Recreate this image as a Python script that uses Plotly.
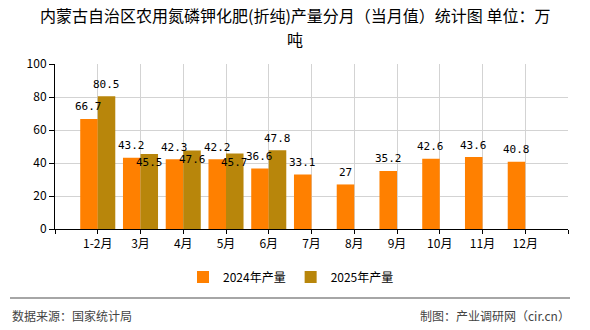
import plotly.graph_objects as go

months = ["1-2月", "3月", "4月", "5月", "6月", "7月", "8月", "9月", "10月", "11月", "12月"]
prod_2024 = [66.7, 43.2, 42.3, 42.2, 36.6, 33.1, 27, 35.2, 42.6, 43.6, 40.8]
prod_2025 = [80.5, 45.5, 47.6, 45.7, 47.8, None, None, None, None, None, None]
label_below_2025 = [False, True, True, True, False, False, False, False, False, False, False]
series_names = ["2024年产量", "2025年产量"]
colors = ["#FF8000", "#B8860B"]

title_line1 = "内蒙古自治区农用氮磷钾化肥(折纯)产量分月（当月值）统计图 单位：万"
title_line2 = "吨"
source_text = "数据来源：国家统计局"
credit_text = "制图：产业调研网（cir.cn）"

CJK = "Noto Sans CJK SC"
bargap = 0.18
xs = list(range(len(months)))

# plot area in pixels (for converting page positions to paper coords)
PL, PR, PT, PB = 55, 568, 64, 229
def px(x):
    return (x - PL) / (PR - PL)
def py(y):
    return (PB - y) / (PB - PT)

fig = go.Figure()
for name, vals, col in zip(series_names, [prod_2024, prod_2025], colors):
    fig.add_trace(go.Bar(x=xs, y=vals, name=name, marker=dict(color=col, line=dict(width=0))))

half = (1 - bargap) / 4
annotations = []
for k, (vals, below) in enumerate([(prod_2024, [False] * len(months)), (prod_2025, label_below_2025)]):
    off = -half if k == 0 else half
    for i, v in enumerate(vals):
        if v is None:
            continue
        annotations.append(dict(
            x=i + off, y=v, xref="x", yref="y", text=f"{v:g}", showarrow=False,
            yanchor="middle", yshift=-9 if below[i] else 12,
            font=dict(family="DejaVu Sans Mono", size=11, color="#000"),
        ))

annotations.append(dict(x=px(295), y=py(15), xref="paper", yref="paper", text=title_line1,
                        showarrow=False, xanchor="center", yanchor="middle",
                        font=dict(family=CJK, size=16, color="#000")))
annotations.append(dict(x=px(295), y=py(39), xref="paper", yref="paper", text=title_line2,
                        showarrow=False, xanchor="center", yanchor="middle",
                        font=dict(family=CJK, size=16, color="#000")))
annotations.append(dict(x=px(10), y=py(315), xref="paper", yref="paper", text=source_text,
                        showarrow=False, xanchor="left", yanchor="middle",
                        font=dict(family=CJK, size=12, color="#444")))
annotations.append(dict(x=px(572), y=py(315), xref="paper", yref="paper", text=credit_text,
                        showarrow=False, xanchor="right", yanchor="middle",
                        font=dict(family=CJK, size=12, color="#444")))

fig.update_layout(
    width=590, height=330,
    margin=dict(l=PL, r=590 - PR, t=PT, b=330 - PB),
    paper_bgcolor="white", plot_bgcolor="white",
    barmode="group", bargap=bargap, bargroupgap=0,
    font=dict(family=CJK, size=12, color="#000"),
    showlegend=True,
    legend=dict(orientation="h", x=px(291), xanchor="center", y=py(277), yanchor="middle",
                font=dict(family=CJK, size=12, color="#000"), itemclick=False),
    annotations=annotations,
    shapes=[dict(type="line", xref="paper", yref="paper", x0=px(10), x1=px(570),
                 y0=py(298), y1=py(298), line=dict(color="#888888", width=1.5))],
    xaxis=dict(type="linear", range=[-1, 11], tickvals=list(range(-1, 12)),
               ticktext=[""] + months + [""], showgrid=True, gridcolor="#D3D3D3", gridwidth=1,
               ticks="outside", ticklen=4, tickcolor="#000", showline=True, linecolor="#000",
               linewidth=1, zeroline=False, tickfont=dict(family=CJK, size=12, color="#000")),
    yaxis=dict(range=[0, 100], dtick=20, showgrid=True, gridcolor="#D3D3D3", gridwidth=1,
               ticks="outside", ticklen=5, tickcolor="#000", showline=True, linecolor="#000",
               linewidth=1, zeroline=False, tickfont=dict(family=CJK, size=12, color="#000")),
)

fig.write_html("out.html")
